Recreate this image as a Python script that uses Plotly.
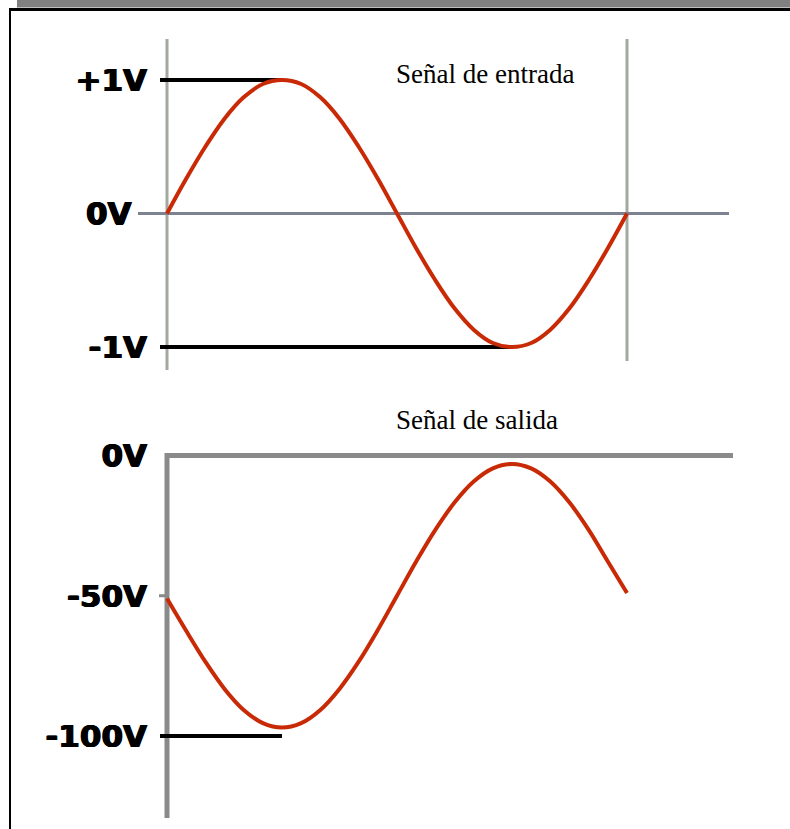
import plotly.graph_objects as go

# Phase of the signal, in degrees
phase_deg = [0, 15, 30, 45, 60, 75, 90, 105, 120, 135, 150, 165, 180,
             195, 210, 225, 240, 255, 270, 285, 300, 315, 330, 345, 360]

# Input signal (volts)
input_v = [0.0, 0.26, 0.5, 0.71, 0.87, 0.97, 1.0, 0.97, 0.87, 0.71, 0.5, 0.26, 0.0,
           -0.26, -0.5, -0.71, -0.87, -0.97, -1.0, -0.97, -0.87, -0.71, -0.5, -0.26, 0.0]

# Output signal (volts), inverted and amplified around -50 V
output_v = [-51, -62.5, -73.5, -83.2, -90.7, -95.4, -97, -95.4, -90.7, -83.2, -73.5, -62.2, -50,
            -37.8, -26.5, -16.8, -9.3, -4.6, -3, -4.6, -9.3, -16.8, -26.5, -37.8, -49]

# Axis tick labels
in_ticks = [1, 0, -1]
in_labels = ["+1V", "0V\u2002", "-1V"]
out_ticks = [0, -50, -100]
out_labels = ["0V", "-50V", "-100V"]

# Peak reference levels
in_peak_hi = 1
in_peak_lo = -1
out_peak_lo = -100

titles = ["Señal de entrada", "Señal de salida"]

W, H = 790, 829
# horizontal scale: pixels per degree, origin pixel
PX0, KX = 167, 460 / 360
# input axis: pixel of 0 V and pixels per volt
PY_IN0, KY_IN = 213.5, 133.5
# output axis: pixel of 0 V and pixels per volt
PY_OUT0, KY_OUT = 455.5, 2.805


def xdeg(px):
    return (px - PX0) / KX


def yin(py):
    return (PY_IN0 - py) / KY_IN


def yout(py):
    return (PY_OUT0 - py) / KY_OUT


SINE = "#c92a06"
AX_IN = "#a4a8a0"
AX_IN_H = "#7c8290"
AX_OUT = "#8a8a8a"

fig = go.Figure()

# --- input signal panel ---
fig.add_trace(go.Scatter(x=[0, 0], y=[yin(39), yin(370)], mode="lines",
                         line=dict(color=AX_IN, width=3), xaxis="x", yaxis="y"))
fig.add_trace(go.Scatter(x=[360, 360], y=[yin(39), yin(361)], mode="lines",
                         line=dict(color=AX_IN, width=3), xaxis="x", yaxis="y"))
fig.add_trace(go.Scatter(x=[xdeg(138), xdeg(729)], y=[0, 0], mode="lines",
                         line=dict(color=AX_IN_H, width=3), xaxis="x", yaxis="y"))
fig.add_trace(go.Scatter(x=[xdeg(160), 90], y=[in_peak_hi, in_peak_hi], mode="lines",
                         line=dict(color="black", width=4), xaxis="x", yaxis="y"))
fig.add_trace(go.Scatter(x=[xdeg(160), 270], y=[in_peak_lo, in_peak_lo], mode="lines",
                         line=dict(color="black", width=4), xaxis="x", yaxis="y"))
fig.add_trace(go.Scatter(x=phase_deg, y=input_v, mode="lines",
                         line=dict(color=SINE, width=4, shape="spline"),
                         xaxis="x", yaxis="y"))

# --- output signal panel ---
fig.add_trace(go.Scatter(x=[xdeg(733), 0, 0], y=[0, 0, yout(818)], mode="lines",
                         line=dict(color=AX_OUT, width=5), xaxis="x2", yaxis="y2"))
fig.add_trace(go.Scatter(x=[xdeg(159), 0], y=[-50, -50], mode="lines",
                         line=dict(color=AX_OUT, width=3), xaxis="x2", yaxis="y2"))
fig.add_trace(go.Scatter(x=[xdeg(160), 90], y=[out_peak_lo, out_peak_lo], mode="lines",
                         line=dict(color="black", width=4), xaxis="x2", yaxis="y2"))
fig.add_trace(go.Scatter(x=phase_deg, y=output_v, mode="lines",
                         line=dict(color=SINE, width=4, shape="spline"),
                         xaxis="x2", yaxis="y2"))

label_font = dict(family="DejaVu Sans", size=31, color="black", weight="bold",
                  shadow="0.7px 0 0 black, -0.7px 0 0 black, 0 0.5px 0 black")
hidden_x = dict(domain=[0, 1], range=[xdeg(0), xdeg(W)], visible=False, fixedrange=True)
ypos = 147 / W

top_dom = [1 - 400 / H, 1 - 20 / H]
bot_dom = [0, 1 - 400 / H]

title_font = dict(family="Liberation Serif", size=27, color="black")

fig.update_layout(
    width=W, height=H,
    margin=dict(l=0, r=0, t=0, b=0),
    paper_bgcolor="white", plot_bgcolor="rgba(0,0,0,0)",
    showlegend=False,
    xaxis=dict(hidden_x, anchor="y"),
    xaxis2=dict(hidden_x, anchor="y2"),
    yaxis=dict(domain=top_dom, range=[yin(400), yin(20)], anchor="free", position=ypos,
               tickvals=in_ticks, ticktext=in_labels, tickfont=label_font,
               showline=False, showgrid=False, zeroline=False, ticks="", fixedrange=True),
    yaxis2=dict(domain=bot_dom, range=[yout(H), yout(400)], anchor="free", position=ypos,
                tickvals=out_ticks, ticktext=out_labels, tickfont=label_font,
                showline=False, showgrid=False, zeroline=False, ticks="", fixedrange=True),
    annotations=[
        dict(text=titles[0], x=394 / W, y=1 - 74 / H, xref="paper", yref="paper",
             xanchor="left", yanchor="middle", showarrow=False, font=title_font),
        dict(text=titles[1], x=394 / W, y=1 - 420 / H, xref="paper", yref="paper",
             xanchor="left", yanchor="middle", showarrow=False, font=title_font),
    ],
    shapes=[
        # grey band and frame
        dict(type="rect", xref="paper", yref="paper", x0=17 / W, x1=1, y0=1 - 7.5 / H, y1=1,
             fillcolor="#808080", line=dict(width=0), layer="below"),
        dict(type="line", xref="paper", yref="paper", x0=9 / W, x1=1, y0=1 - 9.5 / H, y1=1 - 9.5 / H,
             line=dict(color="black", width=3)),
        dict(type="line", xref="paper", yref="paper", x0=10 / W, x1=10 / W, y0=0, y1=1 - 8 / H,
             line=dict(color="black", width=2)),
    ],
)

fig.write_html("out.html")
